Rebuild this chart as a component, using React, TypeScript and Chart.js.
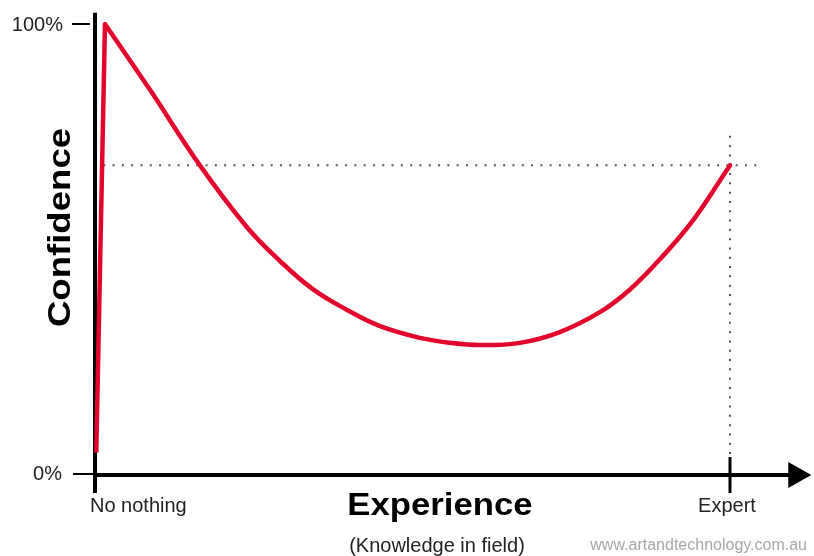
import React, { useEffect, useRef } from "react";
import { Chart, registerables } from "chart.js";

Chart.register(...registerables);

// Sharp initial rise: experience (0 = "No nothing") vs confidence (%)
const RISE_EXPERIENCE = [0.2, 1.57];
const RISE_CONFIDENCE = [5.0, 100];

// Long curve after the peak, up to "Expert" (100)
const CURVE_EXPERIENCE = [1.57, 8.66, 16.5, 23.9, 29.1, 34.3, 39.7, 44.9, 51.2, 55.9, 60.6, 66.9, 73.2, 79.5, 84.3, 89.0, 94.2, 100];
const CURVE_CONFIDENCE = [100, 85.4, 68.7, 55.0, 47.5, 41.2, 36.6, 33.0, 30.4, 29.3, 28.8, 29.3, 31.7, 36.1, 41.2, 47.9, 56.5, 68.7];

const Y_TICKS = [0, 100];
const Y_TICK_LABELS = ["0%", "100%"];
const X_TICKS = [0, 100];
const X_TICK_LABELS = ["No nothing", "Expert"];

const EXPERT_X = 100;
const EXPERT_CONFIDENCE = 68.7;

const X_TITLE = "Experience";
const X_SUBTITLE = "(Knowledge in field)";
const Y_TITLE = "Confidence";
const WATERMARK = "www.artandtechnology.com.au";

const FONT = '"Liberation Sans", Arial, Helvetica, sans-serif';
const RED = "#e3062c";

const decorPlugin = {
  id: "decor",
  beforeDatasetsDraw(chart: any) {
    const ctx = chart.ctx;
    const xs = chart.scales.x;
    const ys = chart.scales.y;
    const x0 = xs.getPixelForValue(0);
    const y0 = ys.getPixelForValue(0);
    const yTop = ys.getPixelForValue(102.5);
    const arrowTip = xs.getPixelForValue(112.8);
    const ex = xs.getPixelForValue(EXPERT_X);
    const ey = ys.getPixelForValue(EXPERT_CONFIDENCE);

    ctx.save();
    // dotted guides
    ctx.strokeStyle = "#555";
    ctx.lineWidth = 2;
    ctx.setLineDash([2, 7.3]);
    ctx.beginPath();
    ctx.moveTo(xs.getPixelForValue(1.3), ey);
    ctx.lineTo(xs.getPixelForValue(104.8), ey);
    ctx.stroke();
    ctx.beginPath();
    ctx.moveTo(ex, ys.getPixelForValue(75.2));
    ctx.lineTo(ex, y0);
    ctx.stroke();
    ctx.setLineDash([]);

    // axes
    ctx.fillStyle = "#000";
    ctx.fillRect(x0 - 2, yTop, 4, y0 + 18 - yTop);
    ctx.fillRect(x0 - 2, y0 - 2, arrowTip - 22 - (x0 - 2), 4);
    ctx.beginPath();
    ctx.moveTo(arrowTip, y0);
    ctx.lineTo(arrowTip - 23, y0 - 13);
    ctx.lineTo(arrowTip - 23, y0 + 13);
    ctx.closePath();
    ctx.fill();

    // expert tick
    ctx.strokeStyle = "#000";
    ctx.lineWidth = 3;
    ctx.beginPath();
    ctx.moveTo(xs.getPixelForValue(X_TICKS[1]), y0 - 18);
    ctx.lineTo(xs.getPixelForValue(X_TICKS[1]), y0 + 18);
    ctx.stroke();

    // y ticks
    ctx.lineWidth = 2;
    ctx.beginPath();
    ctx.moveTo(x0 - 23, ys.getPixelForValue(Y_TICKS[1]));
    ctx.lineTo(x0 - 5, ys.getPixelForValue(Y_TICKS[1]));
    ctx.moveTo(x0 - 22, ys.getPixelForValue(Y_TICKS[0]) - 1);
    ctx.lineTo(x0, ys.getPixelForValue(Y_TICKS[0]) - 1);
    ctx.stroke();

    // tick labels
    ctx.fillStyle = "#222";
    ctx.font = `20px ${FONT}`;
    ctx.textBaseline = "middle";
    ctx.textAlign = "right";
    ctx.fillText(Y_TICK_LABELS[1], x0 - 32, ys.getPixelForValue(Y_TICKS[1]) + 1);
    ctx.fillText(Y_TICK_LABELS[0], x0 - 33, ys.getPixelForValue(Y_TICKS[0]) - 1);

    ctx.textBaseline = "alphabetic";
    ctx.textAlign = "left";
    ctx.fillText(X_TICK_LABELS[0], xs.getPixelForValue(X_TICKS[0]) - 5, y0 + 37);
    ctx.textAlign = "center";
    ctx.fillText(X_TICK_LABELS[1], xs.getPixelForValue(X_TICKS[1]) - 3, y0 + 37);

    // subtitle
    ctx.fillText(X_SUBTITLE, 437, 552);

    // watermark
    ctx.fillStyle = "#a8a8a8";
    ctx.font = `16px ${FONT}`;
    ctx.textAlign = "right";
    ctx.fillText(WATERMARK, 807, 550);

    // x title (bold, slightly stretched)
    ctx.fillStyle = "#000";
    ctx.font = `bold 31px ${FONT}`;
    ctx.textAlign = "center";
    ctx.save();
    ctx.translate(440, 515);
    ctx.scale(1.12, 1);
    ctx.fillText(X_TITLE, 0, 0);
    ctx.restore();

    // y title
    ctx.save();
    ctx.translate(70, 227.5);
    ctx.rotate(-Math.PI / 2);
    ctx.scale(1.18, 1);
    ctx.fillText(Y_TITLE, 0, 0);
    ctx.restore();

    ctx.restore();
  },
};

export default function App() {
  const ref = useRef<HTMLCanvasElement | null>(null);

  useEffect(() => {
    if (!ref.current) return;
    const chart = new Chart(ref.current, {
      type: "line",
      data: {
        datasets: [
          {
            data: RISE_EXPERIENCE.map((x, i) => ({ x, y: RISE_CONFIDENCE[i] })),
            borderColor: RED,
            borderWidth: 4.5,
            pointRadius: 0,
            tension: 0,
            borderCapStyle: "butt",
            fill: false,
            clip: false as any,
          },
          {
            data: CURVE_EXPERIENCE.map((x, i) => ({ x, y: CURVE_CONFIDENCE[i] })),
            borderColor: RED,
            borderWidth: 4.5,
            pointRadius: 0,
            tension: 0.4,
            borderCapStyle: "round",
            fill: false,
            clip: false as any,
          },
        ],
      },
      options: {
        responsive: false,
        animation: false,
        events: [],
        layout: { padding: { left: 95, right: 84, top: 24, bottom: 81 } },
        plugins: { legend: { display: false }, tooltip: { enabled: false } },
        scales: {
          x: { type: "linear", min: 0, max: 100, display: false },
          y: { type: "linear", min: 0, max: 100, display: false },
        },
      },
      plugins: [decorPlugin],
    });
    return () => chart.destroy();
  }, []);

  return (
    <div style={{ position: "absolute", left: 0, top: 0, width: 814, height: 556, background: "#fff" }}>
      <canvas ref={ref} width={814} height={556} style={{ display: "block" }} />
    </div>
  );
}
